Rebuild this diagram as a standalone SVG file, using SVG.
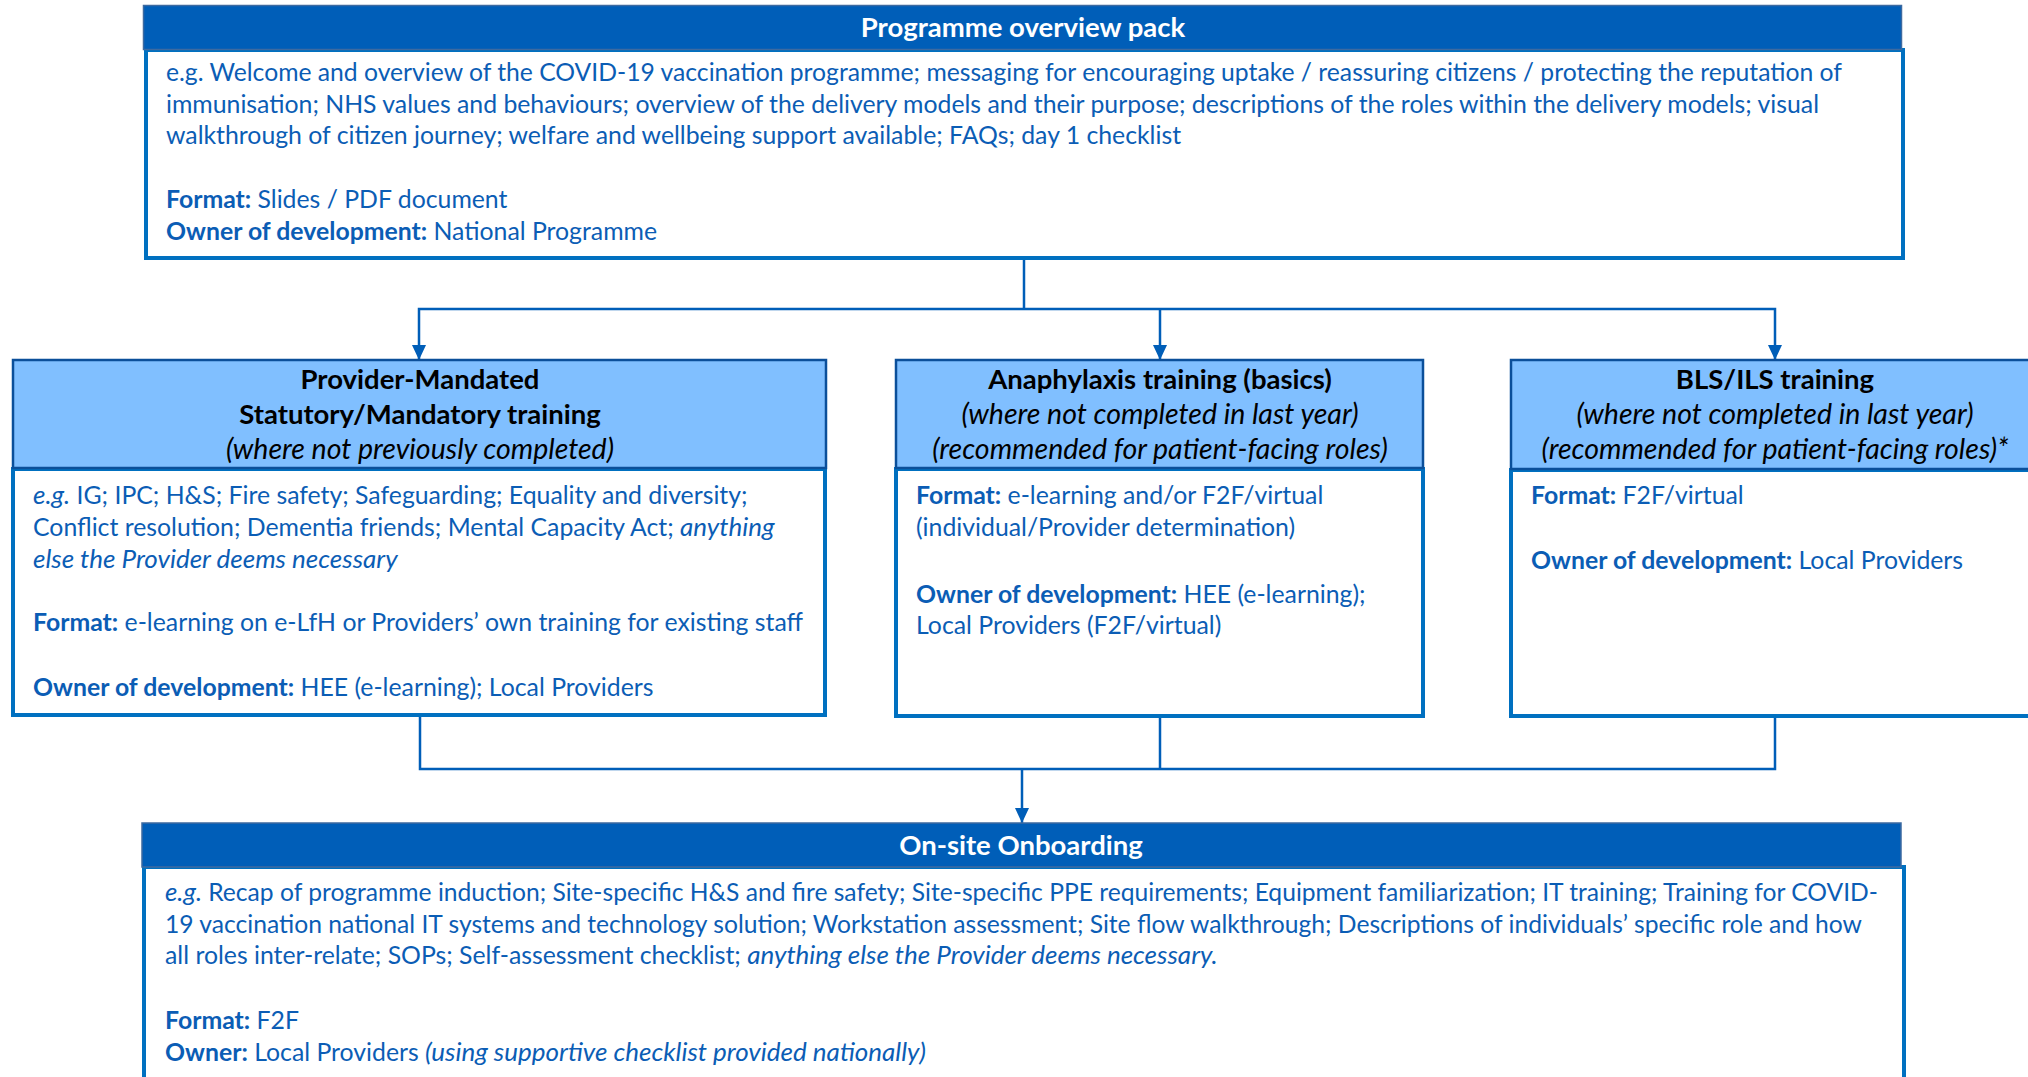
<svg xmlns="http://www.w3.org/2000/svg" width="2028" height="1077" viewBox="0 0 2028 1077">
<defs>
<style>
text{font-family:Lato,"Liberation Sans",sans-serif;}
.hd{fill:#005EB8;stroke:#3d6aa0;stroke-width:1.5;}
.hl{fill:#80BFFF;stroke:#0B4F9A;stroke-width:2.5;}
.bd{fill:#ffffff;stroke:#0070C0;stroke-width:4;}
.conn{fill:none;stroke:#005EB8;stroke-width:2.5;}
.t{fill:#0B5DB5;font-size:24.8px;}
.ttl{fill:#ffffff;font-size:27.5px;font-weight:bold;text-anchor:middle;}
.h{fill:#000000;font-size:27.5px;text-anchor:middle;}
.hi{fill:#000000;font-size:28.5px;font-style:italic;text-anchor:middle;}
.b{font-weight:bold;}
.i{font-style:italic;font-size:26px;}
</style>
<marker id="arr" viewBox="0 0 15 14" refX="15" refY="7" markerWidth="15" markerHeight="14" markerUnits="userSpaceOnUse" orient="auto">
<path d="M0,0 L15,7 L0,14 z" fill="#005EB8"/>
</marker>
</defs>
<rect width="2028" height="1077" fill="#ffffff"/>

<g id="connectors">
<path class="conn" d="M1024,258 V309"/>
<path class="conn" d="M1024,309 H419 V360" marker-end="url(#arr)"/>
<path class="conn" d="M1024,309 H1775 V360" marker-end="url(#arr)"/>
<path class="conn" d="M1160,309 V360" marker-end="url(#arr)"/>
<path class="conn" d="M420,716 V769 H1775 V716"/>
<path class="conn" d="M1160,716 V769"/>
<path class="conn" d="M1022,769 V823" marker-end="url(#arr)"/>
</g>

<g id="programme-overview">
<rect class="bd" x="146" y="50" width="1757" height="208"/>
<rect class="hd" x="143.5" y="5.5" width="1758" height="44"/>
<text class="ttl" x="1023" y="37">Programme overview pack</text>
<text class="t" x="166" y="81" textLength="1676" lengthAdjust="spacingAndGlyphs">e.g. Welcome and overview of the COVID-19 vaccination programme; messaging for encouraging uptake / reassuring citizens / protecting the reputation of</text>
<text class="t" x="166" y="113" textLength="1653" lengthAdjust="spacingAndGlyphs">immunisation; NHS values and behaviours; overview of the delivery models and their purpose; descriptions of the roles within the delivery models; visual</text>
<text class="t" x="166" y="144">walkthrough of citizen journey; welfare and wellbeing support available; FAQs; day 1 checklist</text>
<text class="t" x="166" y="208"><tspan class="b">Format:</tspan> Slides / PDF document</text>
<text class="t" x="166" y="240"><tspan class="b">Owner of development:</tspan> National Programme</text>
</g>

<g id="provider-mandated">
<rect class="bd" x="13" y="469" width="812" height="246"/>
<rect class="hl" x="13" y="360" width="813" height="108"/>
<text class="h b" x="420" y="389">Provider-Mandated</text>
<text class="h b" x="420" y="424">Statutory/Mandatory training</text>
<text class="hi" x="420" y="459">(where not previously completed)</text>
<text class="t" x="33" y="504"><tspan class="i">e.g.</tspan> IG; IPC; H&amp;S; Fire safety; Safeguarding; Equality and diversity;</text>
<text class="t" x="33" y="536">Conflict resolution; Dementia friends; Mental Capacity Act; <tspan class="i">anything</tspan></text>
<text class="t i" x="33" y="568">else the Provider deems necessary</text>
<text class="t" x="33" y="631"><tspan class="b">Format:</tspan> e-learning on e-LfH or Providers’ own training for existing staff</text>
<text class="t" x="33" y="696"><tspan class="b">Owner of development:</tspan> HEE (e-learning); Local Providers</text>
</g>

<g id="anaphylaxis">
<rect class="bd" x="896" y="469" width="527" height="247"/>
<rect class="hl" x="896" y="360" width="527" height="108"/>
<text class="h b" x="1160" y="389">Anaphylaxis training (basics)</text>
<text class="hi" x="1160" y="424">(where not completed in last year)</text>
<text class="hi" x="1160" y="459">(recommended for patient-facing roles)</text>
<text class="t" x="916" y="504"><tspan class="b">Format:</tspan> e-learning and/or F2F/virtual</text>
<text class="t" x="916" y="536">(individual/Provider determination)</text>
<text class="t" x="916" y="603"><tspan class="b">Owner of development:</tspan> HEE (e-learning);</text>
<text class="t" x="916" y="634">Local Providers (F2F/virtual)</text>
</g>

<g id="bls-ils">
<rect class="bd" x="1511" y="470" width="560" height="246"/>
<rect class="hl" x="1511" y="360" width="560" height="109"/>
<text class="h b" x="1775" y="389">BLS/ILS training</text>
<text class="hi" x="1775" y="424">(where not completed in last year)</text>
<text class="hi" x="1775" y="459">(recommended for patient-facing roles)*</text>
<text class="t" x="1531" y="504"><tspan class="b">Format:</tspan> F2F/virtual</text>
<text class="t" x="1531" y="569"><tspan class="b">Owner of development:</tspan> Local Providers</text>
</g>

<g id="onsite-onboarding">
<rect class="bd" x="144" y="867" width="1760" height="240"/>
<rect class="hd" x="142" y="823" width="1759" height="44"/>
<text class="ttl" x="1021" y="855">On-site Onboarding</text>
<text class="t" x="165" y="901" textLength="1713" lengthAdjust="spacingAndGlyphs"><tspan class="i">e.g.</tspan> Recap of programme induction; Site-specific H&amp;S and fire safety; Site-specific PPE requirements; Equipment familiarization; IT training; Training for COVID-</text>
<text class="t" x="165" y="933" textLength="1697" lengthAdjust="spacingAndGlyphs">19 vaccination national IT systems and technology solution; Workstation assessment; Site flow walkthrough; Descriptions of individuals’ specific role and how</text>
<text class="t" x="165" y="964">all roles inter-relate; SOPs; Self-assessment checklist; <tspan class="i">anything else the Provider deems necessary.</tspan></text>
<text class="t" x="165" y="1029"><tspan class="b">Format:</tspan> F2F</text>
<text class="t" x="165" y="1061"><tspan class="b">Owner:</tspan> Local Providers <tspan class="i">(using supportive checklist provided nationally)</tspan></text>
</g>
</svg>
